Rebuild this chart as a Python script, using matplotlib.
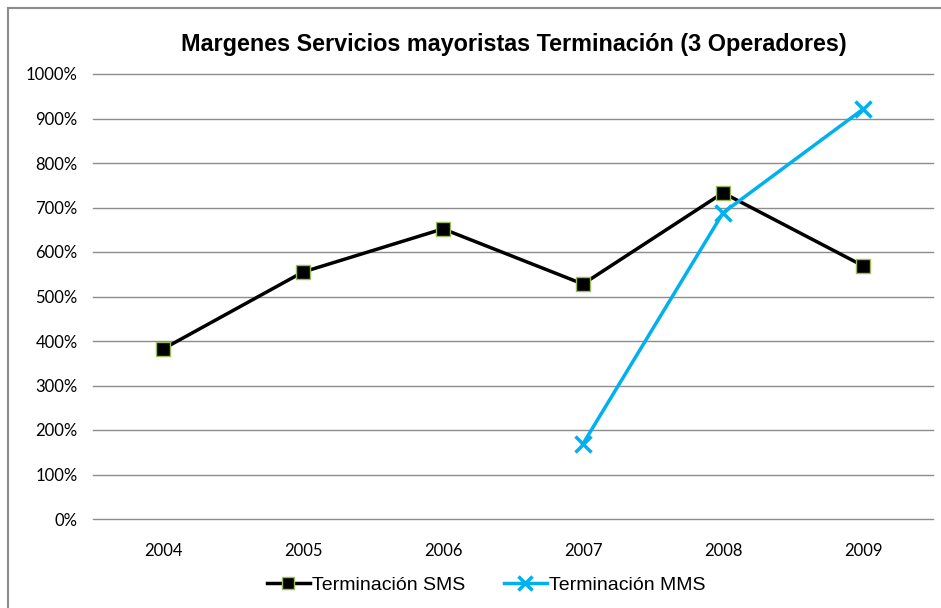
import matplotlib.pyplot as plt
from matplotlib.lines import Line2D
from matplotlib.ticker import FuncFormatter

years = ['2004', '2005', '2006', '2007', '2008', '2009']
sms = [382, 555, 652, 528, 733, 569]
mms_years = ['2007', '2008', '2009']
mms = [169, 688, 921]

W, H = 941, 608
fig = plt.figure(figsize=(W / 100, H / 100), dpi=100)
ax = fig.add_axes([93 / W, 1 - 519 / H, 840 / W, 445 / H])

# chart frame (only top/left edges visible in the original)
fig.add_artist(Line2D([8 / W, 1], [1 - 8 / H, 1 - 8 / H], color='#8c8c8c', lw=1.5))
fig.add_artist(Line2D([8 / W, 8 / W], [0, 1 - 8 / H], color='#8c8c8c', lw=1.5))

x = list(range(len(years)))
xm = [years.index(y) for y in mms_years]

ax.plot(x, sms, color='black', lw=2.5, marker='s', markersize=10,
        markerfacecolor='black', markeredgecolor='#9bbb59', markeredgewidth=1,
        label='Terminación SMS', zorder=3)
ax.plot(xm, mms, color='#00b0f0', lw=2.5, marker='x', markersize=12,
        markeredgewidth=2.5, label='Terminación MMS', zorder=4)

ax.set_xlim(-0.5, len(years) - 0.5)
ax.set_ylim(0, 1000)
ax.set_yticks(range(0, 1001, 100))
ax.yaxis.set_major_formatter(FuncFormatter(lambda v, p: f'{int(v)}%'))
ax.set_xticks(x)
ax.set_xticklabels(years)
ax.grid(axis='y', color='#8c8c8c', lw=1)
for gl in ax.get_ygridlines():
    gl.set_clip_on(False)
ax.set_axisbelow(True)
for s in ['top', 'right', 'left', 'bottom']:
    ax.spines[s].set_visible(False)
ax.tick_params(axis='both', length=0, labelsize=12, pad=17)
for lab in ax.get_xticklabels() + ax.get_yticklabels():
    lab.set_family('Lato')
ax.tick_params(axis='y', pad=11)

fig.text(514 / W, 1 - 44 / H, 'Margenes Servicios mayoristas Terminación (3 Operadores)',
         ha='center', va='center', fontsize=16.8, fontweight='bold',
         family='Liberation Sans')

fig.legend(loc='center', bbox_to_anchor=(486 / W, 1 - 585 / H), ncol=2, frameon=False,
           prop={'family': 'Liberation Sans', 'size': 14}, handlelength=2.2,
           handletextpad=0.1, columnspacing=2.0, markerscale=0.8)

fig.savefig('out.png', dpi=100)
